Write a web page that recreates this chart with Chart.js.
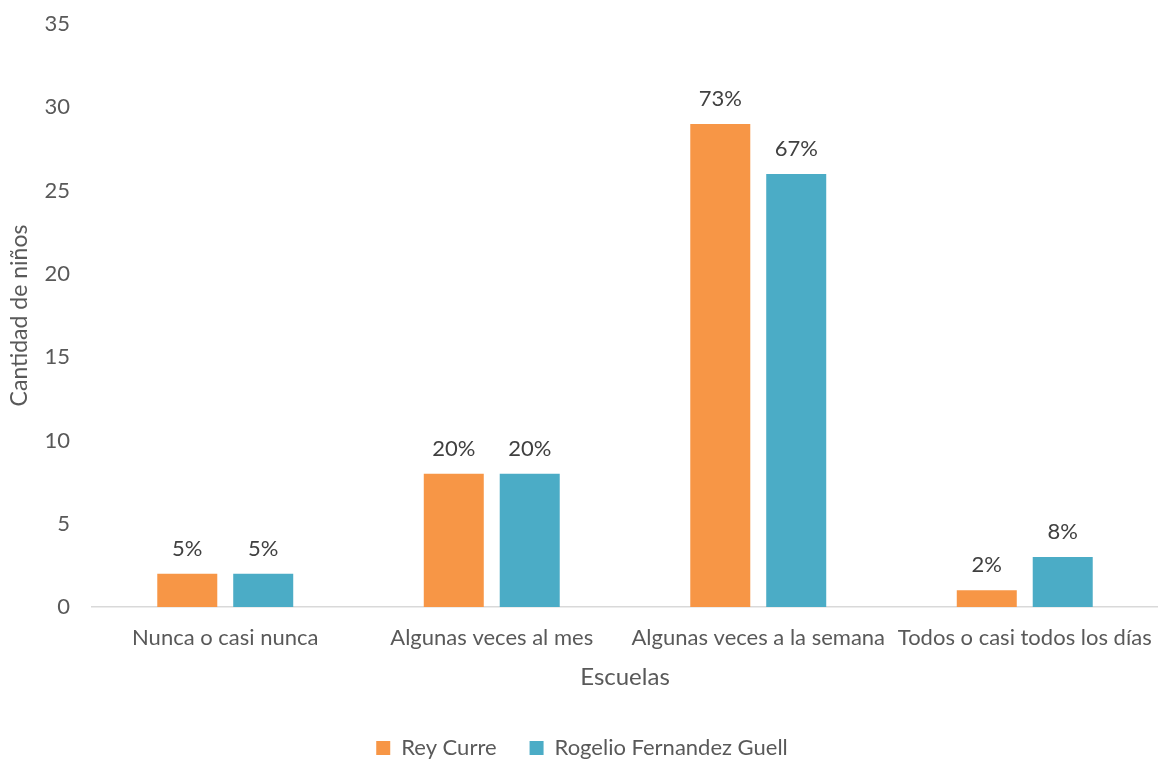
<!DOCTYPE html>
<html>
<head>
<meta charset="utf-8">
<script src="https://cdn.jsdelivr.net/npm/chart.js@4"></script>
<style>
  html, body { margin: 0; padding: 0; background: #fff; }
  #wrap { width: 1158px; height: 761px; }
</style>
</head>
<body>
<div id="wrap"><canvas id="chart"></canvas></div>
<script>
// frecuencia por escuela
var categories = ['Nunca o casi nunca', 'Algunas veces al mes', 'Algunas veces a la semana', 'Todos o casi todos los días'];
var reyCurre = [2, 8, 29, 1];
var rogelio = [2, 8, 26, 3];
var reyCurrePct = ['5%', '20%', '73%', '2%'];
var rogelioPct = ['5%', '20%', '67%', '8%'];
var yTicks = [0, 5, 10, 15, 20, 25, 30, 35];

var FONT = 'Lato, "Open Sans", sans-serif';
var GREY = '#595959';
var SIZE = 22;

// percentage above each bar
var pctLabels = {
    id: 'pctLabels',
    afterDatasetsDraw: function(chart) {
        var ctx = chart.ctx;
        ctx.save();
        ctx.font = SIZE + 'px ' + FONT;
        ctx.fillStyle = '#404040';
        ctx.textAlign = 'center';
        ctx.textBaseline = 'middle';
        chart.data.datasets.forEach(function(ds, i) {
            chart.getDatasetMeta(i).data.forEach(function(bar, j) {
                ctx.fillText(ds.pct[j], bar.x, bar.y - 25);
            });
        });
        ctx.restore();
    }
};

// wide gap between legend items but a short legend box
var legendHeight = {
    id: 'legendHeight',
    afterInit: function(chart) {
        var lg = chart.legend;
        var fit = lg.fit;
        lg.fit = function() {
            fit.call(this);
            this.height = 57;
        };
    }
};

var ctx = document.getElementById('chart').getContext('2d');
new Chart(ctx, {
    type: 'bar',
    data: {
        labels: categories,
        datasets: [{
            label: 'Rey Curre',
            data: reyCurre,
            pct: reyCurrePct,
            backgroundColor: '#F79646'
        }, {
            label: 'Rogelio Fernandez Guell',
            data: rogelio,
            pct: rogelioPct,
            backgroundColor: '#4BACC6'
        }]
    },
    options: {
        responsive: true,
        maintainAspectRatio: false,
        animation: false,
        categoryPercentage: 0.57,
        barPercentage: 0.79,
        layout: { padding: { top: 0, right: 0, left: 6, bottom: 0 } },
        scales: {
            x: {
                grid: { display: false, drawTicks: false },
                border: { color: '#D9D9D9', width: 1.5 },
                ticks: { color: GREY, font: { family: FONT, size: SIZE }, padding: 18, maxRotation: 0 },
                title: { display: true, text: 'Escuelas', color: GREY, font: { family: FONT, size: 24 }, padding: { top: 14, bottom: 12 } },
                afterFit: function(axis) {
                    axis.paddingRight = 0;
                    axis.height = 97;
                }
            },
            y: {
                min: 0,
                max: 35,
                afterBuildTicks: function(axis) {
                    axis.ticks = yTicks.map(function(v) { return { value: v }; });
                },
                grid: { display: false, drawTicks: false },
                border: { display: false },
                ticks: { color: GREY, font: { family: FONT, size: SIZE }, padding: 22 },
                title: { display: true, text: 'Cantidad de niños', color: GREY, font: { family: FONT, size: 23 }, padding: { top: 0, bottom: 14 } },
                afterFit: function(axis) {
                    axis.paddingTop = 24;
                    axis.width = 86;
                }
            }
        },
        plugins: {
            legend: {
                position: 'bottom',
                labels: { color: GREY, font: { family: FONT, size: SIZE }, boxWidth: 14, boxHeight: 14, padding: 33 }
            },
            tooltip: { enabled: false }
        }
    },
    plugins: [pctLabels, legendHeight]
});
</script>
</body>
</html>
